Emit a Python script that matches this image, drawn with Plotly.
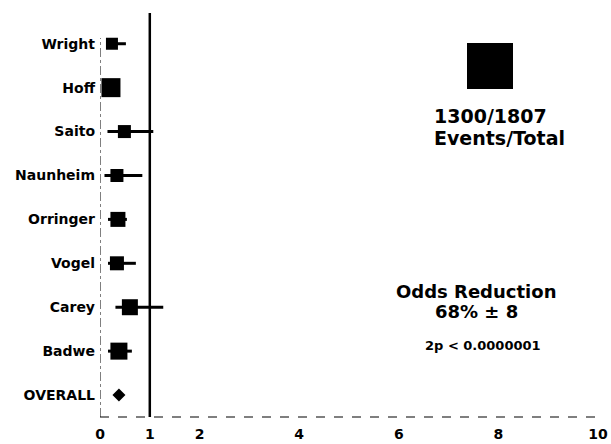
import plotly.graph_objects as go

studies = ["Wright", "Hoff", "Saito", "Naunheim", "Orringer", "Vogel", "Carey", "Badwe", "OVERALL"]
odds = [0.24, 0.22, 0.49, 0.34, 0.36, 0.34, 0.60, 0.38, 0.38]
ci_low = [0.12, 0.10, 0.15, 0.09, 0.16, 0.16, 0.31, 0.16, 0.30]
ci_high = [0.52, 0.34, 1.07, 0.85, 0.54, 0.72, 1.27, 0.64, 0.46]
weights = [12, 19, 13, 13, 15, 14, 16, 17, 10]
tick_vals = [0, 1, 2, 4, 6, 8, 10]
tick_text = ["0", "1", "2", "4", "6", "8", "10"]

FONT = "DejaVu Sans"
n = len(studies)
ypos = list(range(n))

fig = go.Figure()
fig.add_trace(go.Scatter(
    x=odds[:-1], y=ypos[:-1], mode="markers",
    marker=dict(symbol="square", size=weights[:-1], color="black", opacity=1, line=dict(width=0)),
    error_x=dict(type="data", symmetric=False,
                 array=[h - o for h, o in zip(ci_high[:-1], odds[:-1])],
                 arrayminus=[o - l for o, l in zip(odds[:-1], ci_low[:-1])],
                 thickness=3, width=0, color="black"),
    showlegend=False, hoverinfo="skip"))
fig.add_trace(go.Scatter(
    x=[odds[-1]], y=[ypos[-1]], mode="markers",
    marker=dict(symbol="diamond", size=weights[-1], color="black", opacity=1),
    showlegend=False, hoverinfo="skip"))

def py(p):
    return (417 - p) / 404

def px(p):
    return (p - 100) / 498

shapes = [
    dict(type="line", xref="x", yref="paper", x0=1, x1=1, y0=0, y1=1,
         line=dict(color="black", width=2.5)),
    dict(type="line", xref="x", yref="paper", x0=0, x1=0, y0=0, y1=py(38),
         line=dict(color="black", width=1, dash="dashdot")),
    dict(type="line", xref="paper", yref="paper", x0=0, x1=1, y0=0, y1=0,
         line=dict(color="black", width=1.2, dash="dash")),
    dict(type="rect", xref="paper", yref="paper",
         x0=px(467), x1=px(513), y0=py(89), y1=py(43),
         fillcolor="black", line=dict(width=0)),
]

ann = [
    dict(text="<b>1300/1807</b>", x=px(432), y=py(116), xanchor="left", yanchor="middle", font=dict(size=19)),
    dict(text="<b>Events/Total</b>", x=px(432), y=py(137.5), xanchor="left", yanchor="middle", font=dict(size=19)),
    dict(text="<b>Odds Reduction</b>", x=px(476), y=py(291), xanchor="center", yanchor="middle", font=dict(size=18)),
    dict(text="<b>68% ± 8</b>", x=px(476), y=py(311), xanchor="center", yanchor="middle", font=dict(size=18)),
    dict(text="<b>2p < 0.0000001</b>", x=px(483), y=py(345), xanchor="center", yanchor="middle", font=dict(size=13)),
]
for a in ann:
    a.update(xref="paper", yref="paper", showarrow=False)
    a["font"].update(family=FONT, color="black")

fig.update_layout(
    width=611, height=444,
    margin=dict(l=100, r=13, t=13, b=27),
    paper_bgcolor="white", plot_bgcolor="white",
    font=dict(family=FONT, color="black"),
    shapes=shapes, annotations=ann,
    xaxis=dict(range=[0, 10], tickvals=tick_vals, ticktext=["<b>%s</b>" % t for t in tick_text],
               showgrid=False, zeroline=False, showline=False, ticks="", automargin=False,
               tickfont=dict(size=14, family=FONT), ticklabelstandoff=7),
    yaxis=dict(range=[8.5, -0.7], tickvals=ypos, ticktext=["<b>%s</b>" % s for s in studies],
               showgrid=False, zeroline=False, showline=False, ticks="", automargin=False,
               tickfont=dict(size=14, family=FONT), ticklabelstandoff=4),
)

fig.write_html("out.html", config={"displayModeBar": False},
               post_script="document.body.style.margin='0';document.body.style.overflow='hidden';")
